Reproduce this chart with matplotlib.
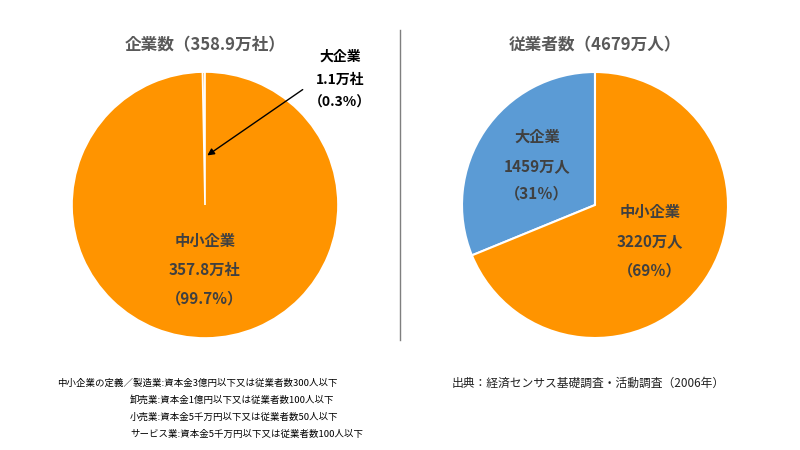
import matplotlib
matplotlib.use("Agg")
import matplotlib.pyplot as plt

plt.rcParams["font.family"] = ["Noto Sans CJK JP", "DejaVu Sans"]

# data
firm_labels = ["大企業", "中小企業"]
firm_values = [1.1, 357.8]          # 万社
emp_labels = ["大企業", "中小企業"]
emp_values = [1459, 3220]           # 万人

orange = "#FF9400"
blue = "#5B9BD5"
label_color = "#404040"

fig = plt.figure(figsize=(8, 4.5), dpi=100)
W, H = 800, 450


def px(x, y):
    return x / W, 1 - y / H


def pie_axes(cx, cy, r):
    ax = fig.add_axes([(cx - r) / W, 1 - (cy + r) / H, 2 * r / W, 2 * r / H])
    ax.set_xlim(-1, 1)
    ax.set_ylim(-1, 1)
    ax.axis("off")
    return ax


# left pie
ax1 = pie_axes(205, 205, 133)
ax1.pie(firm_values, colors=[orange, orange], startangle=90, counterclock=True,
        radius=1, wedgeprops=dict(edgecolor="white", linewidth=1.2))
ax1.set_xlim(-1, 1)
ax1.set_ylim(-1, 1)

# right pie
ax2 = pie_axes(595, 205, 133)
ax2.pie(emp_values, colors=[blue, orange], startangle=90, counterclock=True,
        radius=1, wedgeprops=dict(edgecolor="white", linewidth=1.5))
ax2.set_xlim(-1, 1)
ax2.set_ylim(-1, 1)

firm_total = sum(firm_values)
emp_total = sum(emp_values)

# titles
fig.text(*px(205, 45), f"企業数（{firm_total:.1f}万社）", ha="center", va="center",
         fontsize=12, fontweight="bold", color="#595959")
fig.text(*px(595, 45), f"従業者数（{emp_total:.0f}万人）", ha="center", va="center",
         fontsize=12, fontweight="bold", color="#595959")

# divider
fig.add_artist(plt.Line2D([400 / W, 400 / W], [1 - 30 / H, 1 - 340 / H],
                          color="#7f7f7f", linewidth=1))

# labels inside left pie
lab_kw = dict(ha="center", va="center", fontsize=11, fontweight="bold", color=label_color)
fig.text(*px(205, 241), firm_labels[1], **lab_kw)
fig.text(*px(205, 270), f"{firm_values[1]}万社", **lab_kw)
fig.text(*px(205, 298), f"（{firm_values[1] / firm_total * 100:.1f}%）", **lab_kw)

# outside annotation for large firms
big_kw = dict(ha="center", va="center", fontsize=10, fontweight="bold", color="black")
fig.text(*px(340, 57), firm_labels[0], **big_kw)
fig.text(*px(340, 80), f"{firm_values[0]}万社", **big_kw)
fig.text(*px(340, 103), f"（{firm_values[0] / firm_total * 100:.1f}%）", **big_kw)
fig.add_artist(matplotlib.patches.FancyArrowPatch(
    px(305, 88), px(205, 157), transform=fig.transFigure,
    arrowstyle="-|>", mutation_scale=10, color="black", linewidth=1))

# labels inside right pie
fig.text(*px(537, 137), emp_labels[0], **lab_kw)
fig.text(*px(537, 166), f"{emp_values[0]}万人", **lab_kw)
fig.text(*px(537, 193), f"（{emp_values[0] / emp_total * 100:.0f}％）", **lab_kw)
fig.text(*px(650, 212), emp_labels[1], **lab_kw)
fig.text(*px(650, 241), f"{emp_values[1]}万人", **lab_kw)
fig.text(*px(650, 270), f"（{emp_values[1] / emp_total * 100:.0f}％）", **lab_kw)

# footnotes
note_kw = dict(ha="left", va="center", fontsize=6.8, color="black")
fig.text(*px(57, 383), "中小企業の定義／製造業:資本金3億円以下又は従業者数300人以下", **note_kw)
fig.text(*px(130, 400), "卸売業:資本金1億円以下又は従業者数100人以下", **note_kw)
fig.text(*px(130, 417), "小売業:資本金5千万円以下又は従業者数50人以下", **note_kw)
fig.text(*px(130, 434), "サービス業:資本金5千万円以下又は従業者数100人以下", **note_kw)

fig.text(*px(452, 383), "出典：経済センサス基礎調査・活動調査（2006年）", ha="left", va="center",
         fontsize=8.5, color="#222222")

fig.savefig("out.png", dpi=100)
